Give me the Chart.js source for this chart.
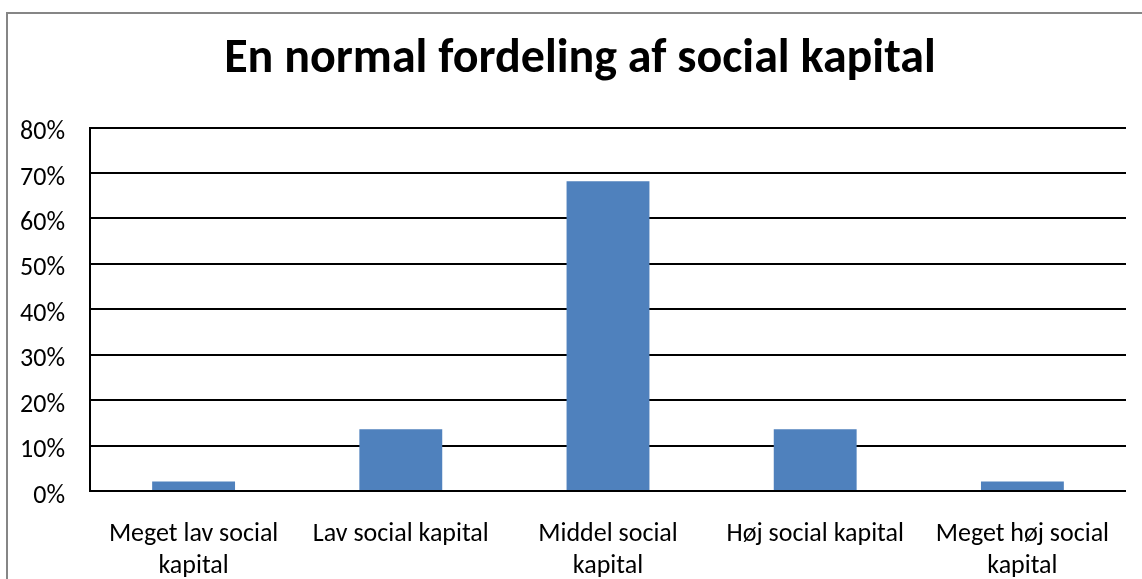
<!DOCTYPE html>
<html>
<head>
<meta charset="utf-8">
<style>
  html, body { margin: 0; padding: 0; background: #fff; }
  #wrap { width: 1142px; height: 579px; }
</style>
<script src="https://cdn.jsdelivr.net/npm/chart.js@4/dist/chart.umd.min.js"></script>
</head>
<body>
<div id="wrap"><canvas id="chart" width="1142" height="579"></canvas></div>
<script>
const kategorier = [
    ['Meget lav social', 'kapital'],
    'Lav social kapital',
    ['Middel social', 'kapital'],
    'Høj social kapital',
    ['Meget høj social', 'kapital']
];
const andele = [2.1, 13.6, 68.2, 13.6, 2.1];
const yTicks = [0, 10, 20, 30, 40, 50, 60, 70, 80];

const fontFam = 'Carlito, Calibri, "Open Sans", sans-serif';

// grå ramme som i Excel-diagrammet
const ramme = {
    id: 'ramme',
    afterLayout(chart) {
        // titlen står lidt til højre for lærredets midte i originalen
        if (chart.titleBlock) chart.titleBlock.left += 14;
    },
    beforeDraw(chart) {
        const ctx = chart.ctx;
        ctx.save();
        ctx.fillStyle = '#fff';
        ctx.fillRect(0, 0, chart.width, chart.height);
        ctx.strokeStyle = '#868686';
        ctx.lineWidth = 2;
        ctx.strokeRect(7, 13, chart.width + 20, chart.height + 20);
        ctx.restore();
    }
};

new Chart(document.getElementById('chart'), {
    type: 'bar',
    data: {
        labels: kategorier,
        datasets: [{
            data: andele,
            backgroundColor: '#4f81bd',
            barPercentage: 0.4,
            categoryPercentage: 1.0
        }]
    },
    options: {
        responsive: false,
        animation: false,
        layout: { padding: { left: 20, right: 16, top: 31, bottom: 0 } },
        plugins: {
            legend: { display: false },
            tooltip: { enabled: false },
            title: {
                display: true,
                text: 'En normal fordeling af social kapital',
                color: '#000',
                font: { family: fontFam, size: 48, weight: 'bold' },
                padding: { top: 0, bottom: 39 }
            }
        },
        scales: {
            x: {
                grid: { display: false, drawTicks: false },
                border: { display: false },
                ticks: {
                    color: '#000',
                    font: { family: fontFam, size: 26, lineHeight: 1.23 },
                    padding: 28,
                    maxRotation: 0,
                    autoSkip: false
                },
                afterFit(axis) { axis.height = 88; }
            },
            y: {
                min: 0,
                max: 80,
                afterBuildTicks(axis) {
                    axis.ticks = yTicks.map(v => ({ value: v }));
                },
                grid: { color: '#000', lineWidth: 2, drawTicks: false },
                border: { display: true, color: '#000', width: 2 },
                ticks: {
                    color: '#000',
                    font: { family: fontFam, size: 26 },
                    padding: 25,
                    labelOffset: 5,
                    callback: v => v + '%'
                },
                afterFit(axis) { axis.width = 70; }
            }
        }
    },
    plugins: [ramme]
});
</script>
</body>
</html>
